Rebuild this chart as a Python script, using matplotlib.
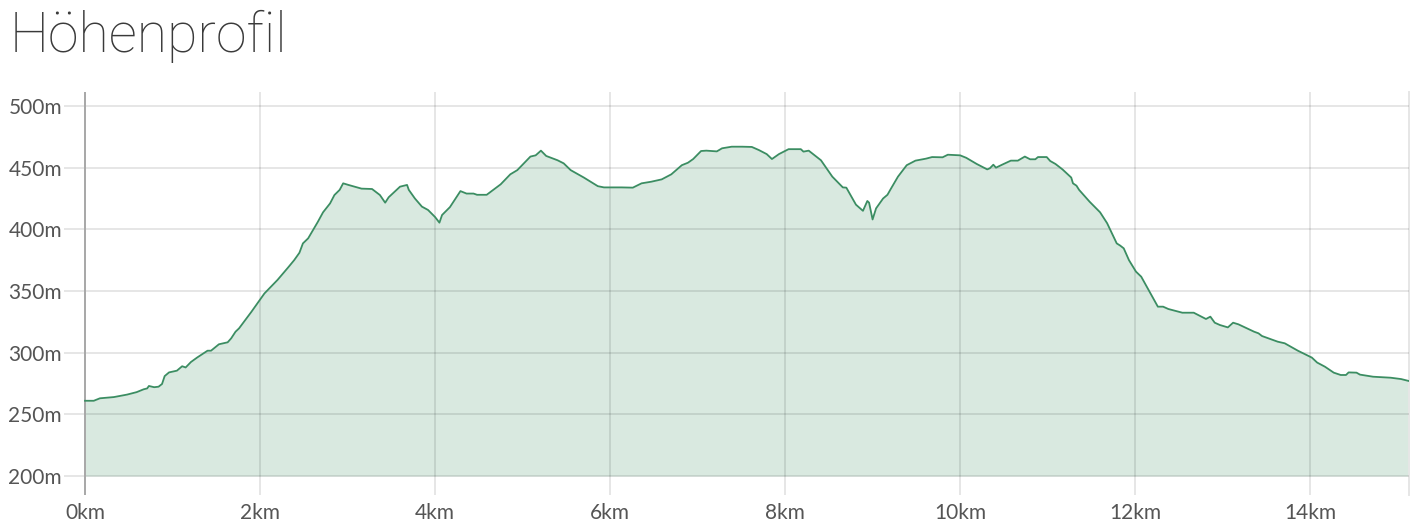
import matplotlib
matplotlib.use('Agg')
import matplotlib.pyplot as plt

# distance (km) and elevation (m)
km = [0, 0.10, 0.17, 0.33, 0.48, 0.59, 0.67, 0.71, 0.73, 0.79, 0.84, 0.88, 0.91, 0.96,
      1.05, 1.11, 1.15, 1.21, 1.28, 1.40, 1.44, 1.53, 1.63, 1.67, 1.72, 1.76, 1.90,
      2.05, 2.20, 2.32, 2.39, 2.45, 2.49, 2.55, 2.61, 2.66, 2.72, 2.80, 2.85, 2.91, 2.95,
      3.01, 3.08, 3.16, 3.28, 3.37, 3.43, 3.47, 3.60, 3.68, 3.70, 3.77, 3.85, 3.92,
      4.00, 4.05, 4.08, 4.17, 4.29, 4.36, 4.44, 4.48, 4.59, 4.75, 4.86, 4.94,
      5.09, 5.15, 5.21, 5.27, 5.40, 5.47, 5.55, 5.70, 5.86, 5.93,
      6.13, 6.26, 6.36, 6.47, 6.59, 6.70, 6.82, 6.89, 6.95,
      7.04, 7.10, 7.22, 7.28, 7.39, 7.51, 7.62, 7.70, 7.79, 7.85, 7.93,
      8.04, 8.18, 8.21, 8.27, 8.41, 8.54, 8.66, 8.70, 8.81, 8.89, 8.94, 8.96,
      9.00, 9.04, 9.12, 9.17, 9.21, 9.29, 9.39, 9.49, 9.61, 9.68, 9.80, 9.86,
      10.0, 10.07, 10.19, 10.31, 10.34, 10.38, 10.41, 10.48, 10.58, 10.66, 10.74, 10.80,
      10.86, 10.89, 10.99, 11.03, 11.09, 11.17, 11.27, 11.29, 11.33, 11.36, 11.48, 11.60,
      11.68, 11.79, 11.83, 11.87, 11.93, 12.01, 12.07, 12.26, 12.32, 12.38, 12.54, 12.67,
      12.81, 12.86, 12.91, 12.97, 13.06, 13.12, 13.18, 13.36, 13.41, 13.45, 13.63, 13.71,
      13.86, 14.02, 14.08, 14.17, 14.27, 14.35, 14.41, 14.44, 14.53, 14.57, 14.72, 14.92,
      15.04, 15.13]
elev = [261, 261, 263, 264, 266, 268, 270.3, 271, 273, 272, 272.4, 274.6, 281, 284,
        285.4, 289, 288, 292.4, 296, 301.6, 301.6, 306.8, 308.4, 311.6, 317, 319.7, 333,
        348, 359, 369, 375, 381, 388.6, 392.7, 400, 406, 413.8, 421, 427.8, 432, 437.3,
        436, 434.6, 433, 432.7, 427.8, 421.6, 426, 434.6, 436, 432, 425, 418.4, 415.7,
        410, 405.4, 411.6, 418, 431, 429, 429, 428, 428, 436.5, 444.6, 448,
        459, 460, 463.8, 459.5, 456, 453.5, 448, 442, 435, 434,
        434, 433.8, 437.3, 438.6, 440.5, 444.6, 452, 454, 457,
        463.5, 463.8, 463.2, 465.7, 467, 467, 466.8, 464.3, 461, 457, 461,
        465, 465, 463, 463.8, 456, 442.7, 434, 433.8, 420, 415, 423, 421.6,
        408, 417, 425, 428, 433, 442.7, 452, 455.7, 457.3, 458.6, 458.4, 460.5,
        460, 458, 453, 448.6, 449.5, 452.4, 450, 452.4, 455.7, 455.7, 459, 456.8,
        456.8, 458.6, 458.6, 455.4, 453, 448.6, 442, 437.3, 435.4, 432, 422.4, 413.8,
        405, 388.6, 386.8, 384.6, 375, 365.7, 361.6, 337.3, 337.3, 335.4, 332.4, 332.4,
        327.3, 329.2, 324.3, 322.4, 320.5, 324.3, 323, 317, 315.7, 313.5, 308.9, 307.6,
        301.6, 296, 292, 288.6, 283.8, 281.9, 281.9, 284, 283.8, 282.2, 280.5, 279.7,
        278.6, 277]

x_ticks = [0, 2, 4, 6, 8, 10, 12, 14]
y_ticks = [200, 250, 300, 350, 400, 450, 500]
title = 'Höhenprofil'

plt.rcParams['font.family'] = ['Lato', 'DejaVu Sans']

fig = plt.figure(figsize=(14.16, 5.31), dpi=100)
ax = fig.add_axes([63.5 / 1416, 1 - 495 / 531, (1409 - 63.5) / 1416, (495 - 92) / 531])

ax.fill_between(km, 200, elev, color='#d9e9e0', lw=0, zorder=1)
ax.plot(km, elev, color='#3b8d62', lw=1.3, zorder=3)

ax.set_xlim(-0.246, 15.13)
ax.set_ylim(184.6, 511.35)
ax.set_xticks(x_ticks)
ax.set_xticklabels([f'{t}km' for t in x_ticks])
ax.set_yticks(y_ticks)
ax.set_yticklabels([f'{t}m' for t in y_ticks])
ax.tick_params(length=0, labelsize=15, labelcolor='#555555')
ax.tick_params(axis='y', pad=1)
ax.tick_params(axis='x', pad=6)

ax.set_axisbelow(False)
ax.grid(True, color='black', alpha=0.1, lw=1.4, zorder=2)
ax.axvline(0, color='#a8a8a8', lw=1.4, zorder=2.6)

for side in ['left', 'top', 'bottom']:
    ax.spines[side].set_visible(False)
ax.spines['right'].set_color('#e6e6e6')
ax.spines['right'].set_linewidth(1.4)

fig.text(10 / 1416, 1 - 52 / 531, title, family=['Roboto', 'Lato'], fontsize=40,
         fontweight='light', color='#3a3a3a', va='baseline', ha='left')

fig.savefig('out.png', dpi=100)
